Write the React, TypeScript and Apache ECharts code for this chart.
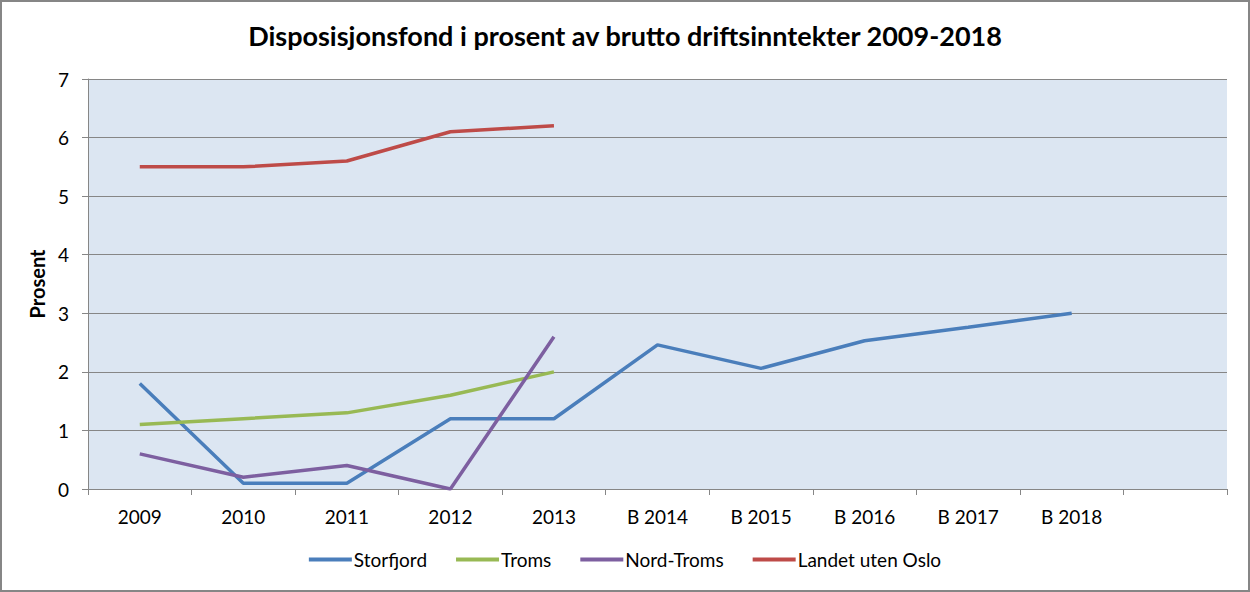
import React, { useEffect, useRef } from "react";
import * as echarts from "echarts";

const categories = ["2009", "2010", "2011", "2012", "2013", "B 2014", "B 2015", "B 2016", "B 2017", "B 2018", ""];
const storfjord = [1.8, 0.1, 0.1, 1.2, 1.2, 2.46, 2.06, 2.53, 2.76, 3.0, null];
const troms = [1.1, 1.2, 1.3, 1.6, 2.0, null, null, null, null, null, null];
const nordTroms = [0.6, 0.2, 0.4, 0.0, 2.6, null, null, null, null, null, null];
const landet = [5.5, 5.5, 5.6, 6.1, 6.2, null, null, null, null, null, null];
const yTicks = [0, 7, 1];

const FONT = "Lato, 'Open Sans', sans-serif";

export default function App() {
  const ref = useRef<HTMLDivElement>(null);
  useEffect(() => {
    const chart = echarts.init(ref.current!, null, { renderer: "svg" });
    const mk = (name: string, data: (number | null)[], color: string) => ({
      name,
      type: "line",
      data,
      symbol: "none",
      lineStyle: { color, width: 3.5 },
      itemStyle: { color },
      connectNulls: false,
    });
    chart.setOption({
      animation: false,
      backgroundColor: "#ffffff",
      title: {
        text: "Disposisjonsfond i prosent av brutto driftsinntekter 2009-2018",
        left: "center",
        top: 17,
        textStyle: { fontFamily: FONT, fontWeight: "bold", fontSize: 27, color: "#000" },
      },
      graphic: [
        {
          type: "rect",
          shape: { x: 1, y: 1, width: 1248, height: 590 },
          style: { fill: "none", stroke: "#868686", lineWidth: 2 },
          silent: true,
        },
      ],
      legend: {
        top: 545,
        left: "center",
        itemWidth: 43,
        itemHeight: 4,
        itemGap: 29,
        icon: "rect",
        textStyle: { fontFamily: FONT, fontSize: 19, color: "#000", padding: [0, 0, 0, -3] },
        data: ["Storfjord", "Troms", "Nord-Troms", "Landet uten Oslo"],
      },
      grid: {
        left: 88,
        right: 23,
        top: 79,
        bottom: 103,
        show: true,
        backgroundColor: "#dce6f2",
        borderWidth: 0,
      },
      xAxis: {
        type: "category",
        data: categories,
        boundaryGap: true,
        axisLine: { show: true, lineStyle: { color: "#868686", width: 1 } },
        axisTick: { show: true, alignWithLabel: false, length: 6, lineStyle: { color: "#868686" }, interval: 0 },
        axisLabel: { fontFamily: FONT, fontSize: 19, color: "#000", margin: 18, interval: 0 },
      },
      yAxis: {
        type: "value",
        min: yTicks[0],
        max: yTicks[1],
        interval: yTicks[2],
        name: "Prosent",
        nameLocation: "middle",
        nameGap: 40,
        nameTextStyle: { fontFamily: FONT, fontWeight: "bold", fontSize: 20, color: "#000" },
        axisLine: { show: true, lineStyle: { color: "#868686", width: 1 } },
        axisTick: { show: true, length: 6, lineStyle: { color: "#868686" } },
        axisLabel: { fontFamily: FONT, fontSize: 19, color: "#000", margin: 19 },
        splitLine: { show: true, lineStyle: { color: "#868686", width: 1 } },
      },
      series: [
        mk("Storfjord", storfjord, "#4a7ebb"),
        mk("Troms", troms, "#98b954"),
        mk("Nord-Troms", nordTroms, "#7d5fa0"),
        mk("Landet uten Oslo", landet, "#be4b48"),
      ],
    });
    return () => chart.dispose();
  }, []);
  return (
    <div
      ref={ref}
      style={{ position: "absolute", left: 0, top: 0, width: 1250, height: 592 }}
    />
  );
}
